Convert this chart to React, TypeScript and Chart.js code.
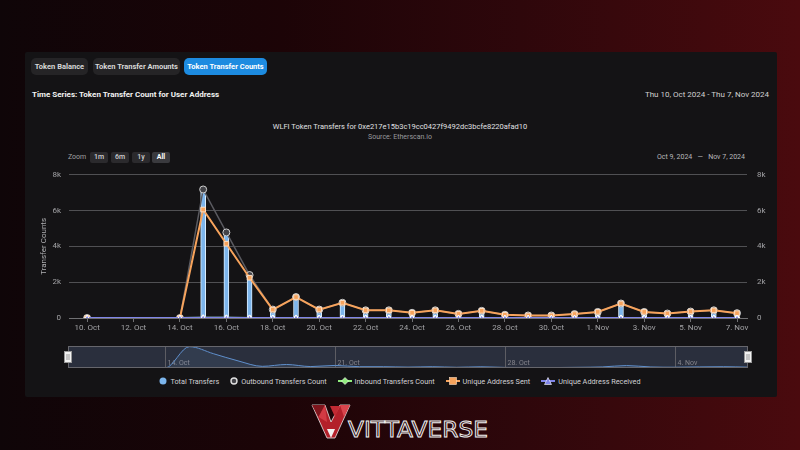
import React, { useEffect, useRef } from 'react';
import { Chart, registerables } from 'chart.js';
Chart.register(...registerables);

// ---------- data ----------
const dayLabels = [
  '10. Oct', '11. Oct', '12. Oct', '13. Oct', '14. Oct', '15. Oct', '16. Oct', '17. Oct',
  '18. Oct', '19. Oct', '20. Oct', '21. Oct', '22. Oct', '23. Oct', '24. Oct', '25. Oct',
  '26. Oct', '27. Oct', '28. Oct', '29. Oct', '30. Oct', '31. Oct', '1. Nov', '2. Nov',
  '3. Nov', '4. Nov', '5. Nov', '6. Nov', '7. Nov',
];
const xTickIndex = [0, 2, 4, 6, 8, 10, 12, 14, 16, 18, 20, 22, 24, 26, 28];
const totalTransfers = [0, null, null, null, 0, 7180, 4780, 2400, 560, 1180, 480, 870, 440, 440, 300, 440, 240, 410, 190, 150, 150, 230, 360, 820, 350, 260, 370, 440, 280];
const outboundTransfers = [0, null, null, null, 0, 7180, 4780, 2400, 470, 1170, 470, 850, 430, 430, 290, 430, 230, 400, 180, 140, 140, 220, 340, 810, 340, 250, 360, 430, 270];
const inboundTransfers = [0, null, null, null, 0, 12, 8, 5, 3, 4, 2, 3, 2, 2, 1, 2, 1, 2, 1, 1, 1, 2, 2, 3, 1, 1, 2, 2, 1];
const uniqueAddressSent = [0, null, null, null, 0, 6060, 4150, 2250, 470, 1170, 470, 850, 430, 430, 290, 430, 230, 400, 180, 140, 140, 220, 340, 810, 340, 250, 360, 430, 270];
const uniqueAddressReceived = [0, null, null, null, 0, 10, 7, 4, 3, 3, 2, 2, 2, 1, 1, 2, 1, 1, 1, 1, 1, 1, 2, 2, 1, 1, 1, 2, 1];
const yTicks = [0, 2000, 4000, 6000, 8000];
const navTickIndex = [4, 11, 18, 25];
const navTickLabels = ['14. Oct', '21. Oct', '28. Oct', '4. Nov'];
const seriesNames = ['Total Transfers', 'Outbound Transfers Count', 'Inbound Transfers Count', 'Unique Address Sent', 'Unique Address Received'];
const seriesColors = ['#7cb5ec', '#434348', '#90ed7d', '#f7a35c', '#8085e9'];
const tabs = ['Token Balance', 'Token Transfer Amounts', 'Token Transfer Counts'];
const zoomButtons = ['1m', '6m', '1y', 'All'];

const FONT = 'Roboto, "Noto Sans", sans-serif';

const pts = (arr: (number | null)[]) => arr.map((v, i) => ({ x: i, y: v }));
const kfmt = (v: number) => (v === 0 ? '0' : v / 1000 + 'k');

function MainChart() {
  const ref = useRef<HTMLCanvasElement>(null);
  useEffect(() => {
    const ctx = ref.current!.getContext('2d')!;
    const tickFont = { size: 8, family: FONT };
    const lineCommon = { type: 'line' as const, spanGaps: true, yAxisID: 'y', pointBorderWidth: 1 };
    const chart = new Chart(ctx, {
      type: 'bar',
      data: {
        datasets: [
          {
            type: 'bar', label: seriesNames[0], data: pts(totalTransfers) as any,
            backgroundColor: '#7cb5ec', borderColor: '#dcefff', borderWidth: 1,
            barThickness: 5, order: 5, yAxisID: 'y',
          },
          {
            ...lineCommon, label: seriesNames[1], data: pts(outboundTransfers) as any,
            borderColor: '#5a5a60', borderWidth: 1.5, pointStyle: 'circle', pointRadius: 3.5,
            pointBackgroundColor: '#434348', pointBorderColor: '#d0d0d0', order: 4,
          },
          {
            ...lineCommon, label: seriesNames[2], data: pts(inboundTransfers) as any,
            borderColor: '#90ed7d', borderWidth: 2, pointStyle: 'rectRot', pointRadius: 3,
            pointBackgroundColor: '#90ed7d', pointBorderColor: '#ffffff', order: 3,
          },
          {
            ...lineCommon, label: seriesNames[3], data: pts(uniqueAddressSent) as any,
            borderColor: '#f7a35c', borderWidth: 2, pointStyle: 'rect', pointRadius: 3.3,
            pointBackgroundColor: '#f7a35c', pointBorderColor: '#ffe0c4', order: 2,
          },
          {
            ...lineCommon, label: seriesNames[4], data: pts(uniqueAddressReceived) as any,
            borderColor: '#8085e9', borderWidth: 2, pointStyle: 'triangle', pointRadius: 3,
            pointBackgroundColor: '#8085e9', pointBorderColor: '#ffffff', order: 1,
          },
        ],
      },
      options: {
        animation: false,
        responsive: false,
        maintainAspectRatio: false,
        layout: { padding: { top: 11, left: 0, right: 0, bottom: 0 } },
        plugins: { legend: { display: false }, tooltip: { enabled: false } },
        scales: {
          x: {
            type: 'linear', min: -0.78, max: 28.43, offset: false,
            afterBuildTicks: (s: any) => { s.ticks = xTickIndex.map((v) => ({ value: v })); },
            afterFit: (s: any) => { s.height = 22; },
            ticks: {
              callback: (v: any) => dayLabels[v] ?? '', color: '#a3a3a6', font: tickFont,
              maxRotation: 0, autoSkip: false, padding: 1,
            },
            grid: { display: true, drawOnChartArea: false, drawTicks: true, tickLength: 4, color: '#707073', offset: false },
            border: { display: true, color: '#707073' },
          },
          y: {
            position: 'left', min: 0, max: 8000,
            afterBuildTicks: (s: any) => { s.ticks = yTicks.map((v) => ({ value: v })); },
            afterFit: (s: any) => { s.width = 39; },
            ticks: { callback: (v: any) => kfmt(v), color: '#a3a3a6', font: tickFont, padding: 8 },
            grid: { color: '#505053', drawTicks: false, lineWidth: 1 },
            border: { display: false },
            title: { display: true, text: 'Transfer Counts', color: '#b0b0b3', font: tickFont, padding: { top: 9, bottom: 0 } },
          },
          y2: {
            position: 'right', display: true, min: 0, max: 8000,
            afterBuildTicks: (s: any) => { s.ticks = yTicks.map((v) => ({ value: v })); },
            afterFit: (s: any) => { s.width = 25; },
            ticks: { callback: (v: any) => kfmt(v), color: '#a3a3a6', font: tickFont, padding: 10 },
            grid: { drawOnChartArea: false, drawTicks: false },
            border: { display: false },
          },
        },
      } as any,
    });
    return () => chart.destroy();
  }, []);
  return <canvas ref={ref} width={742} height={180} style={{ position: 'absolute', left: 30, top: 160, width: 742, height: 180 }} />;
}

function Navigator() {
  const ref = useRef<HTMLCanvasElement>(null);
  useEffect(() => {
    const ctx = ref.current!.getContext('2d')!;
    const navPlugin = {
      id: 'navdeco',
      beforeDatasetsDraw(chart: any) {
        const { ctx: c, chartArea: a, scales } = chart;
        c.save();
        c.fillStyle = '#2a2f3d';
        c.fillRect(a.left, a.top, a.right - a.left, a.bottom - a.top);
        c.strokeStyle = '#5d5d63';
        c.lineWidth = 1;
        c.font = `7px ${FONT}`;
        c.fillStyle = '#85858c';
        c.textBaseline = 'bottom';
        navTickIndex.forEach((v, i) => {
          const x = Math.round(scales.x.getPixelForValue(v)) + 0.5;
          c.beginPath(); c.moveTo(x, a.top); c.lineTo(x, a.bottom); c.stroke();
          c.fillText(navTickLabels[i], x + 2, a.bottom - 1);
        });
        c.restore();
      },
      afterDraw(chart: any) {
        const { ctx: c, chartArea: a } = chart;
        c.save();
        c.strokeStyle = '#66666c';
        c.lineWidth = 1;
        c.strokeRect(a.left + 0.5, a.top + 0.5, a.right - a.left - 1, a.bottom - a.top - 1);
        const cy = (a.top + a.bottom) / 2;
        [a.left, a.right].forEach((x) => {
          c.fillStyle = '#f2f2f2';
          c.strokeStyle = '#999';
          c.fillRect(x - 3.5, cy - 5.5, 7, 11);
          c.strokeRect(x - 3.5, cy - 5.5, 7, 11);
          c.beginPath();
          c.moveTo(x - 1, cy - 3); c.lineTo(x - 1, cy + 3);
          c.moveTo(x + 1, cy - 3); c.lineTo(x + 1, cy + 3);
          c.stroke();
        });
        c.restore();
      },
    };
    const navData = pts(totalTransfers).filter((p) => p.y !== null);
    const chart = new Chart(ctx, {
      type: 'line',
      data: {
        datasets: [{
          data: navData as any, borderColor: '#5f8fcc', borderWidth: 1, pointRadius: 0,
          fill: 'origin', backgroundColor: 'rgba(124,181,236,0.10)', cubicInterpolationMode: 'monotone',
        }],
      },
      options: {
        animation: false, responsive: false, maintainAspectRatio: false,
        layout: { padding: { left: 8, right: 8, top: 2, bottom: 2 } },
        plugins: { legend: { display: false }, tooltip: { enabled: false } },
        scales: {
          x: { type: 'linear', min: 0, max: 28, display: false },
          y: { min: 0, max: 7400, display: false },
        },
      } as any,
      plugins: [navPlugin],
    });
    return () => chart.destroy();
  }, []);
  return <canvas ref={ref} width={696} height={26} style={{ position: 'absolute', left: 60, top: 344, width: 696, height: 26 }} />;
}

function LegendIcon({ i }: { i: number }) {
  const col = seriesColors[i];
  if (i === 0) return <svg width={8} height={8}><circle cx={4} cy={4} r={3.5} fill={col} /></svg>;
  if (i === 1) return <svg width={8} height={8}><circle cx={4} cy={4} r={3} fill="#434348" stroke="#e0e0e0" strokeWidth={1.4} /></svg>;
  return (
    <svg width={14} height={8}>
      <line x1={0} y1={4} x2={14} y2={4} stroke={col} strokeWidth={2} />
      {i === 2 && <polygon points="7,0.5 10.5,4 7,7.5 3.5,4" fill={col} stroke="#fff" strokeWidth={0.6} />}
      {i === 3 && <rect x={3.5} y={0.5} width={7} height={7} fill={col} stroke="#ffe0c4" strokeWidth={0.6} />}
      {i === 4 && <polygon points="7,0.5 10.5,7.5 3.5,7.5" fill={col} stroke="#fff" strokeWidth={0.6} />}
    </svg>
  );
}

export default function App() {
  return (
    <div style={{
      position: 'fixed', left: 0, top: 0, width: 800, height: 450, overflow: 'hidden',
      background: 'linear-gradient(90deg, #0f0508 0%, #1c0407 35%, #2e070b 65%, #4a0a0e 100%)',
      fontFamily: FONT,
    }}>
      {/* card */}
      <div style={{ position: 'absolute', left: 25, top: 52, width: 752, height: 345, background: '#141315', borderRadius: 2 }} />
      {/* tabs */}
      {tabs.map((t, i) => {
        const lefts = [31, 93, 184];
        const widths = [57, 87, 83];
        const active = i === 2;
        return (
          <div key={t} style={{
            position: 'absolute', left: lefts[i], top: 58, width: widths[i], height: 17, borderRadius: 5,
            background: active ? '#1d8be0' : '#252426', color: active ? '#ffffff' : '#d8d8d8',
            fontSize: 7.5, fontWeight: 700, lineHeight: '17px', textAlign: 'center', whiteSpace: 'nowrap',
          }}>{t}</div>
        );
      })}
      <div style={{ position: 'absolute', left: 32, top: 90, fontSize: 8, fontWeight: 700, color: '#f2f2f2', whiteSpace: 'nowrap' }}>
        Time Series: Token Transfer Count for User Address
      </div>
      <div style={{ position: 'absolute', right: 31, top: 90, fontSize: 8, color: '#d0d0d0', whiteSpace: 'nowrap' }}>
        Thu 10, Oct 2024 - Thu 7, Nov 2024
      </div>
      {/* chart title */}
      <div style={{ position: 'absolute', left: 0, width: 800, top: 122, textAlign: 'center', fontSize: 7.5, color: '#e0e0e3', whiteSpace: 'nowrap' }}>
        WLFI Token Transfers for 0xe217e15b3c19cc0427f9492dc3bcfe8220afad10
      </div>
      <div style={{ position: 'absolute', left: 0, width: 800, top: 133, textAlign: 'center', fontSize: 7, color: '#9a9a9e', whiteSpace: 'nowrap' }}>
        Source: Etherscan.io
      </div>
      {/* range selector */}
      <div style={{ position: 'absolute', left: 68, top: 152, fontSize: 7, color: '#a0a0a3', lineHeight: '11px' }}>Zoom</div>
      {zoomButtons.map((b, i) => {
        const lefts = [90, 111, 132, 152];
        const sel = b === 'All';
        return (
          <div key={b} style={{
            position: 'absolute', left: lefts[i], top: 152, width: 18, height: 11, borderRadius: 2,
            background: sel ? '#3a3a3e' : '#2b2a2d', color: sel ? '#ffffff' : '#d0d0d3',
            fontSize: 7, fontWeight: sel ? 700 : 500, lineHeight: '11px', textAlign: 'center',
          }}>{b}</div>
        );
      })}
      <div style={{ position: 'absolute', right: 55, top: 152, fontSize: 7, color: '#b8b8bb', lineHeight: '11px', whiteSpace: 'nowrap' }}>
        Oct 9, 2024&nbsp;&nbsp;&nbsp;—&nbsp;&nbsp;&nbsp;Nov 7, 2024
      </div>
      <MainChart />
      <Navigator />
      {/* legend */}
      <div style={{
        position: 'absolute', left: 0, width: 800, top: 376, height: 10, display: 'flex', justifyContent: 'center',
        alignItems: 'center', gap: 11, fontSize: 7.3, color: '#d0d0d3', whiteSpace: 'nowrap',
      }}>
        {seriesNames.map((n, i) => (
          <div key={n} style={{ display: 'flex', alignItems: 'center', gap: 3 }}>
            <LegendIcon i={i} />
            <span>{n}</span>
          </div>
        ))}
      </div>
      {/* logo */}
      <svg width={200} height={48} style={{ position: 'absolute', left: 300, top: 398 }}>
        <polygon points="12,7 25,7 31,24 40,7 50,7 35,40 27,40" fill="#b3202a" stroke="#e8e8e8" strokeWidth={0.8} />
        <polygon points="12,7 25,7 18.5,19" fill="#7e151c" />
        <polygon points="18.5,19 25,7 27,24" fill="#d23a44" />
        <polygon points="40,7 50,7 44,19" fill="#d9454d" />
        <polygon points="30,8 40,8 35,19" fill="#c22a33" />
        <polygon points="27,31 35,31 31,40" fill="#f2f2f2" />
        <text x={48} y={39} fontSize={21} fontFamily='"DejaVu Sans", sans-serif' fill="none" stroke="#f0f0f0" strokeWidth={0.9}
          textLength={140} lengthAdjust="spacingAndGlyphs">VITTAVERSE</text>
      </svg>
    </div>
  );
}
